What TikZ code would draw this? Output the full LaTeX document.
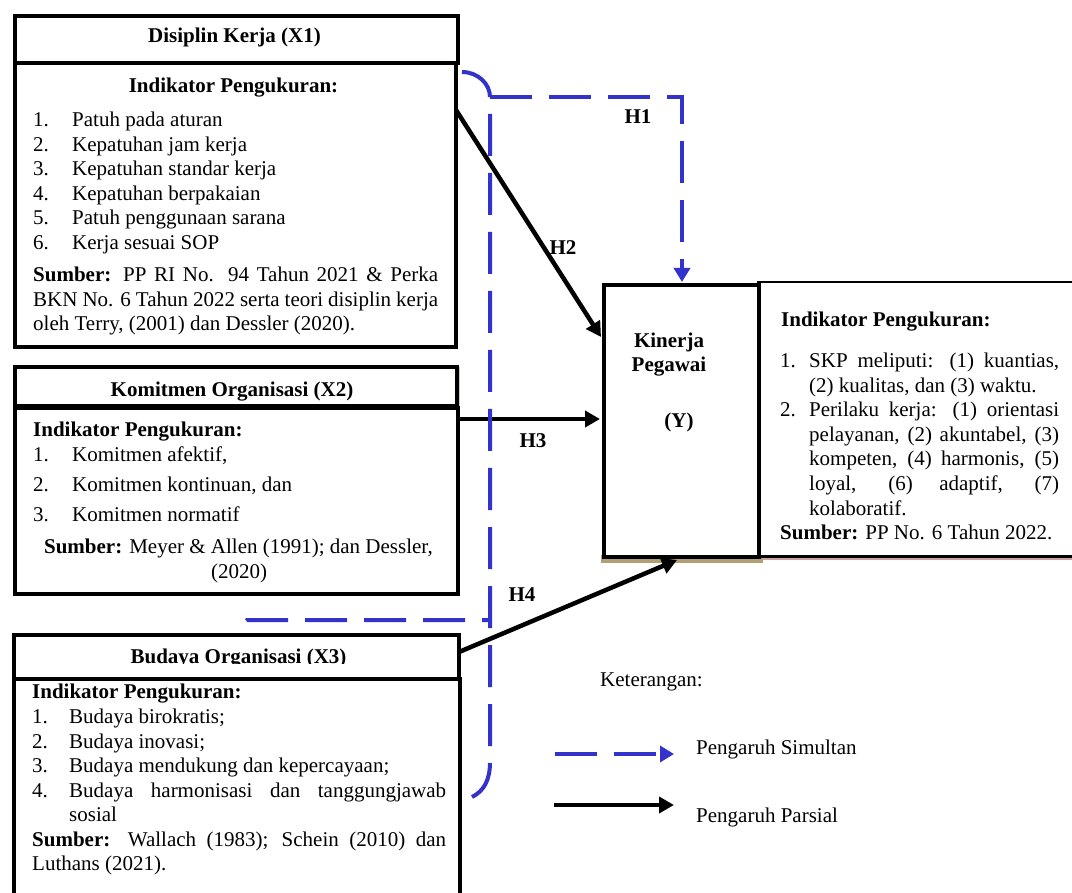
\documentclass[tikz,border=0pt]{standalone}
\usepackage{fontspec}
\setmainfont{Liberation Serif}
\usetikzlibrary{arrows.meta}
\definecolor{simblue}{RGB}{51,51,204}
\definecolor{shgreen}{RGB}{150,165,130}
\definecolor{shtan}{RGB}{176,160,115}
\definecolor{shpink}{RGB}{200,160,160}
\begin{document}
\begin{tikzpicture}[x=1pt,y=-1pt,
  box/.style={draw=black,line width=4pt,inner sep=0pt,anchor=north west,fill=white},
  tx/.style={inner sep=0pt,anchor=base west,font=\fontsize{21}{24.5}\selectfont},
  txc/.style={tx,anchor=base},
  hb/.style={txc,font=\fontsize{21}{24.5}\selectfont\bfseries},
  hbw/.style={tx,font=\fontsize{21}{24.5}\selectfont\bfseries},
  simul/.style={draw=simblue,line width=4pt,dash pattern=on 42pt off 17pt},
  simtip/.style={-{Triangle[length=14pt,width=16pt]}},
  partial/.style={draw=black,line width=4.5pt,-{Triangle[length=15pt,width=16pt]}}]
\clip (0,0) rectangle (1072,893);
\fill[white] (0,0) rectangle (1072,893);

% shadows
\fill[shgreen!60] (456,16) rectangle (460,63);
\fill[shgreen!50] (456,367) rectangle (460,437);
\fill[shgreen] (12,677) rectangle (461,684);
\fill[shgreen] (457,636) rectangle (461,684);
\fill[shtan] (601,555) rectangle (763,563);
\fill[shpink] (763,555) rectangle (1072,560);

% boxes
\node[box,minimum width=443pt,minimum height=47pt] (x1t) at (13,14) {};
\node[box,minimum width=441pt,minimum height=284pt] (x1b) at (13,61) {};
\node[box,minimum width=442pt,minimum height=39pt] (x2t) at (13,365) {};
\node[box,minimum width=443pt,minimum height=186pt] (x2b) at (13,406) {};
\node[box,minimum width=446pt,minimum height=240pt] (x3b) at (12,677) {};
\node[box,minimum width=445pt,minimum height=44pt] (x3t) at (12,633) {};
\node[draw=black,line width=2.5pt,inner sep=0pt,anchor=north west,minimum width=330pt,minimum height=274pt] (rb) at (757,281) {};
\node[box,minimum width=155pt,minimum height=272pt] (y) at (602,283) {};

% X1 text
\node[hb] (x1title) at (234.5,43) {Disiplin Kerja (X1)};
\node[hb] (x1ind) at (233.5,93) {Indikator Pengukuran:};
\node[tx] (x1n1) at (33,127) {1.}; \node[tx] (x1i1) at (72,127) {Patuh pada aturan};
\node[tx] (x1n2) at (33,151.5) {2.}; \node[tx] (x1i2) at (72,151.5) {Kepatuhan jam kerja};
\node[tx] (x1n3) at (33,176) {3.}; \node[tx] (x1i3) at (72,176) {Kepatuhan standar kerja};
\node[tx] (x1n4) at (33,200.5) {4.}; \node[tx] (x1i4) at (72,200.5) {Kepatuhan berpakaian};
\node[tx] (x1n5) at (33,225) {5.}; \node[tx] (x1i5) at (72,225) {Patuh penggunaan sarana};
\node[tx] (x1n6) at (33,249.5) {6.}; \node[tx] (x1i6) at (72,249.5) {Kerja sesuai SOP};
\node[tx] (x1s1) at (33,282) {\makebox[405pt][s]{\textbf{Sumber:} PP RI No. 94 Tahun 2021 \& Perka}};
\node[tx] (x1s2) at (33,306.5) {\makebox[405pt][s]{BKN No. 6 Tahun 2022 serta teori disiplin kerja}};
\node[tx] (x1s3) at (33,331) {oleh Terry, (2001) dan Dessler (2020).};

% X2 text
\node[hb] (x2title) at (232,397) {Komitmen Organisasi (X2)};
\node[hbw] (x2ind) at (33,437) {Indikator Pengukuran:};
\node[tx] (x2n1) at (33,462) {1.}; \node[tx] (x2i1) at (72,462) {Komitmen afektif,};
\node[tx] (x2n2) at (33,492) {2.}; \node[tx] (x2i2) at (72,492) {Komitmen kontinuan, dan};
\node[tx] (x2n3) at (33,521) {3.}; \node[tx] (x2i3) at (72,521) {Komitmen normatif};
\node[txc] (x2s1) at (238.5,553) {\textbf{Sumber:} Meyer \& Allen (1991); dan Dessler,};
\node[txc] (x2s2) at (239,578) {(2020)};

% X3 text (title clipped at its lower edge, as in the original)
\begin{scope}
\clip (14,635) rectangle (455,663);
\node[hb] (x3title) at (238.5,663.5) {Budaya Organisasi (X3)};
\end{scope}
\node[hbw] (x3ind) at (32,698) {Indikator Pengukuran:};
\node[tx] (x3n1) at (32,723) {1.}; \node[tx] (x3i1) at (69,723) {Budaya birokratis;};
\node[tx] (x3n2) at (32,748) {2.}; \node[tx] (x3i2) at (69,748) {Budaya inovasi;};
\node[tx] (x3n3) at (32,772.5) {3.}; \node[tx] (x3i3) at (69,772.5) {Budaya mendukung dan kepercayaan;};
\node[tx] (x3n4) at (32,797) {4.}; \node[tx] (x3i4) at (69,797) {\makebox[377pt][s]{Budaya harmonisasi dan tanggungjawab}};
\node[tx] (x3i4b) at (69,821.5) {sosial};
\node[tx] (x3s1) at (32,846) {\makebox[414pt][s]{\textbf{Sumber:} Wallach (1983); Schein (2010) dan}};
\node[tx] (x3s2) at (32,870.5) {Luthans (2021).};

% Y text
\node[hb] (yk) at (669,348) {Kinerja};
\node[hb] (yp) at (669,372) {Pegawai};
\node[hb] (yy) at (679,428) {(Y)};
\node[hbw] (rind) at (781,327) {Indikator Pengukuran:};
\node[tx] (rn1) at (780,368) {1.}; \node[tx] (ri1a) at (809,368) {\makebox[250pt][s]{SKP meliputi: (1) kuantias,}};
\node[tx] (ri1b) at (809,392.5) {(2) kualitas, dan (3) waktu.};
\node[tx] (rn2) at (780,417) {2.}; \node[tx] (ri2a) at (809,417) {\makebox[250pt][s]{Perilaku kerja: (1) orientasi}};
\node[tx] (ri2b) at (809,441.5) {\makebox[250pt][s]{pelayanan, (2) akuntabel, (3)}};
\node[tx] (ri2c) at (809,466) {\makebox[250pt][s]{kompeten, (4) harmonis, (5)}};
\node[tx] (ri2d) at (809,490.5) {\makebox[250pt][s]{loyal, (6) adaptif, (7)}};
\node[tx] (ri2e) at (809,515) {kolaboratif.};
\node[tx] (rsum) at (780,539) {\textbf{Sumber:} PP No. 6 Tahun 2022.};

% connector coordinates
\coordinate (h2s) at (456,110);
\coordinate (h2e) at (601,337);
\coordinate (h3s) at (456,419);
\coordinate (h3e) at (600,419);
\coordinate (h4s) at (459,652);
\coordinate (h4e) at (677,560);
\coordinate (d0) at (462,72);
\coordinate (dc) at (490,97);
\coordinate (dr) at (682,97);
\coordinate (dy) at (682,282);
\coordinate (dm) at (490,620);
\coordinate (dl) at (247,620);
\coordinate (dx3) at (234,631);
\coordinate (db) at (490,762);
\coordinate (de) at (472,797);

% partial arrows
\draw[partial] (h2s) -- (h2e);
\draw[partial] (h3s) -- (h3e);
\draw[partial] (h4s) -- (h4e);

% simultaneous dashed lines
\draw[draw=simblue,line width=4pt] (d0) .. controls (478,72) and (490,84) .. (dc);
\draw[simul,simtip] (dc) -- (dr) -- (dy);
\draw[simul,dash phase=42pt] (dc) -- (db) .. controls (490,780) and (484,791) .. (de);
\draw[simul,dash phase=34pt] (dm) -- (dl) -- (dx3);

% labels
\node[hb] (h1) at (638,124) {H1};
\node[hb] (h2) at (563,255) {H2};
\node[hb] (h3) at (533,448) {H3};
\node[hb] (h4) at (522,601) {H4};

% legend
\node[tx] (ket) at (600,686) {Keterangan:};
\coordinate (ls1) at (555,754); \coordinate (le1) at (674,754);
\coordinate (ls2) at (554,805); \coordinate (le2) at (674,805);
\draw[simul,simtip] (ls1) -- (le1);
\draw[partial] (ls2) -- (le2);
\node[tx] (lsim) at (696,754) {Pengaruh Simultan};
\node[tx] (lpar) at (696,822) {Pengaruh Parsial};
\end{tikzpicture}
\end{document}
